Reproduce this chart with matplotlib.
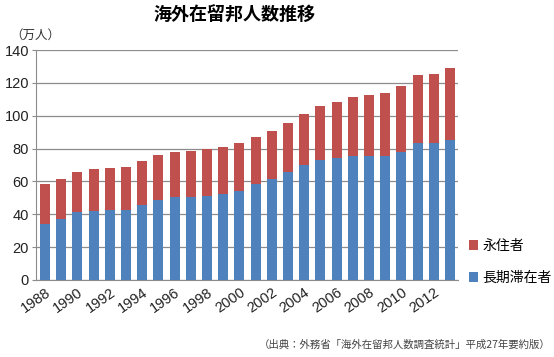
import matplotlib
matplotlib.use("Agg")
import matplotlib.pyplot as plt
import numpy as np

plt.rcParams['font.family'] = ['Liberation Sans', 'Noto Sans CJK JP', 'DejaVu Sans']

years = list(range(1988, 2014))
long_term = [33.9, 37.1, 41.2, 42.0, 42.6, 42.8, 45.6, 48.7, 50.5, 50.5, 51.1, 52.5, 54.2,
             58.4, 61.5, 65.9, 70.0, 73.0, 74.5, 75.7, 75.7, 75.7, 78.1, 83.2, 83.4, 85.4]
total = [58.4, 61.5, 65.7, 67.5, 68.2, 68.8, 72.4, 76.1, 77.9, 78.5, 79.5, 80.9, 83.4,
         87.0, 90.9, 95.6, 101.0, 105.9, 108.3, 111.4, 112.6, 113.8, 118.1, 125.0, 125.4, 129.0]
permanent = [round(t - l, 1) for t, l in zip(total, long_term)]
tick_years = [str(y) for y in range(1988, 2014, 2)]
y_ticks = [0, 20, 40, 60, 80, 100, 120, 140]

BLUE = '#4F81BD'
RED = '#C0504D'
GRID = '#8c8c8c'

fig = plt.figure(figsize=(5.54, 3.57), dpi=100)
ax = fig.add_axes([0.065, 0.2157, 0.762, 0.644])

x = np.arange(len(years))
b1 = ax.bar(x, long_term, width=0.62, color=BLUE, zorder=3, label='長期滞在者')
b2 = ax.bar(x, permanent, bottom=long_term, width=0.62, color=RED, zorder=3, label='永住者')

ax.set_xlim(-0.55, 25.5)
ax.set_ylim(0, 140)
ax.set_yticks(y_ticks)
ax.set_yticklabels([str(v) for v in y_ticks], fontsize=10.5, color='#222222')
ax.yaxis.grid(True, color=GRID, linewidth=0.9, zorder=0)
ax.set_xticks(x[::2])
ax.set_xticklabels(tick_years, rotation=35, ha='right', rotation_mode='anchor',
                   fontsize=10.5, color='#222222')
ax.tick_params(axis='x', length=0, pad=4)
ax.tick_params(axis='y', length=3, color=GRID, pad=2)
for s in ['top', 'right']:
    ax.spines[s].set_visible(False)
ax.spines['left'].set_color(GRID)
ax.spines['bottom'].set_color(GRID)

ax.legend(handles=[b2, b1], loc='lower left', bbox_to_anchor=(0.995, -0.075), frameon=False,
          handlelength=0.7, handleheight=0.7, labelspacing=1.3, handletextpad=0.3,
          fontsize=10)

fig.text(0.424, 0.957, '海外在留邦人数推移', ha='center', va='center', fontsize=13,
         fontweight='bold', family=['Noto Sans CJK JP'])
fig.text(0.063, 0.902, '（万人）', ha='center', va='center', fontsize=9, color='#333333',
         family=['Noto Sans CJK JP'])
fig.text(0.993, 0.034, '（出典：外務省「海外在留邦人数調査統計」平成27年要約版）', ha='right',
         va='center', fontsize=7.5, color='#444444', family=['Noto Sans CJK JP'])

fig.savefig('out.png', dpi=100, facecolor='white')
